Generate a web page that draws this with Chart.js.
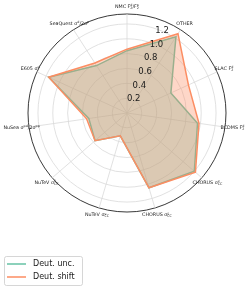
<!DOCTYPE html>
<html>
<head>
<meta charset="utf-8">
<script src="https://cdn.jsdelivr.net/npm/chart.js@4"></script>
<style>
  html, body { margin: 0; padding: 0; background: #fff; }
  canvas { display: block; }
</style>
</head>
<body>
<canvas id="radarChart" width="249" height="290"></canvas>
<script>
// categories, clockwise from the top
const categories = [
    'NMC F_{2}^{d}/F_{2}^{p}', 'OTHER', 'SLAC F_{2}^{d}', 'BCDMS F_{2}^{d}',
    'CHORUS σ_{CC}^{ν}', 'CHORUS σ_{CC}^{ν̄}', 'NuTeV σ_{CC}^{ν}', 'NuTeV σ_{CC}^{ν̄}',
    'NuSea σ^{pd}/2σ^{pp}', 'E605 σ^{d}', 'SeaQuest σ^{d}/2σ^{p}'
];

const uncValues   = [0.84, 1.22, 0.65, 0.96, 1.20, 1.05, 0.32, 0.57, 0.52, 1.16, 0.76];
const shiftValues = [0.86, 1.27, 0.91, 0.98, 1.22, 1.05, 0.32, 0.57, 0.55, 1.16, 0.80];

const gridTicks = [0.2, 0.4, 0.6, 0.8, 1.0, 1.2];
const tickLabels = ['0.2', '0.4', '0.6', '0.8', '1.0', '1.2'];
const rMax = 1.334;

const FONT = '"DejaVu Sans", sans-serif';
const TEXT = '#1a1a1a';

// split "F_{2}^{d}" style labels into plain text and sub/sup groups
function parseLabel(s) {
    const parts = [];
    let buf = '';
    let i = 0;
    while (i < s.length) {
        const ch = s[i];
        if ((ch === '_' || ch === '^') && s[i + 1] === '{') {
            const end = s.indexOf('}', i);
            const content = s.slice(i + 2, end);
            const key = ch === '_' ? 'sub' : 'sup';
            if (buf) { parts.push({ t: buf }); buf = ''; }
            const last = parts[parts.length - 1];
            if (last && last.script && !last[key]) last[key] = content;
            else parts.push({ script: true, [key]: content });
            i = end + 1;
        } else {
            buf += ch;
            i++;
        }
    }
    if (buf) parts.push({ t: buf });
    return parts;
}

function drawRichText(ctx, s, x, y, size) {
    const parts = parseLabel(s);
    const small = size * 0.7;
    const widths = parts.map(p => {
        if (!p.script) { ctx.font = size + 'px ' + FONT; return ctx.measureText(p.t).width; }
        ctx.font = small + 'px ' + FONT;
        return Math.max(p.sub ? ctx.measureText(p.sub).width : 0, p.sup ? ctx.measureText(p.sup).width : 0);
    });
    const total = widths.reduce((a, b) => a + b, 0);
    let cx = x - total / 2;
    ctx.textAlign = 'left';
    ctx.textBaseline = 'middle';
    parts.forEach((p, k) => {
        if (!p.script) {
            ctx.font = size + 'px ' + FONT;
            ctx.fillText(p.t, cx, y);
        } else {
            ctx.font = small + 'px ' + FONT;
            if (p.sup) ctx.fillText(p.sup, cx, y - size * 0.32);
            if (p.sub) ctx.fillText(p.sub, cx, y + size * 0.3);
        }
        cx += widths[k];
    });
}

const polarText = {
    id: 'polarText',
    afterDatasetsDraw(chart) {
        const scale = chart.scales.r;
        const ctx = chart.ctx;
        ctx.save();
        ctx.fillStyle = TEXT;
        ctx.font = '8.5px ' + FONT;
        ctx.textAlign = 'center';
        ctx.textBaseline = 'middle';
        const a = 22.5 * Math.PI / 180;
        gridTicks.forEach((v, k) => {
            const d = scale.getDistanceFromCenterForValue(v);
            ctx.fillText(tickLabels[k], scale.xCenter + d * Math.sin(a) + 1, scale.yCenter - d * Math.cos(a));
        });
        categories.forEach((c, i) => {
            const p = scale.getPointPosition(i, scale.drawingArea + 7.5);
            drawRichText(ctx, c, p.x, p.y, 4.8);
        });
        ctx.restore();
    },
    afterDraw(chart) {
        const ctx = chart.ctx;
        ctx.save();
        ctx.fillStyle = 'rgba(255,255,255,0.8)';
        ctx.strokeStyle = '#cccccc';
        ctx.lineWidth = 0.8;
        ctx.beginPath();
        ctx.roundRect(4.5, 256.5, 78, 29, 2);
        ctx.fill();
        ctx.stroke();
        ctx.font = '8px ' + FONT;
        ctx.textAlign = 'left';
        ctx.textBaseline = 'middle';
        chart.data.datasets.forEach((ds, k) => {
            const y = 264 + k * 13;
            ctx.strokeStyle = ds.borderColor;
            ctx.lineWidth = 1.5;
            ctx.beginPath();
            ctx.moveTo(7, y);
            ctx.lineTo(26, y);
            ctx.stroke();
            ctx.fillStyle = TEXT;
            ctx.fillText(ds.label, 33, y);
        });
        ctx.restore();
    }
};

new Chart(document.getElementById('radarChart'), {
    type: 'radar',
    data: {
        labels: categories,
        datasets: [
            {
                label: 'Deut. unc.',
                data: uncValues,
                borderColor: '#66c2a5',
                backgroundColor: 'rgba(102, 194, 165, 0.35)',
                borderWidth: 1.5,
                fill: true,
                order: 1
            },
            {
                label: 'Deut. shift',
                data: shiftValues,
                borderColor: '#fc8d62',
                backgroundColor: 'rgba(252, 141, 98, 0.35)',
                borderWidth: 1.5,
                fill: true,
                order: 0
            }
        ]
    },
    options: {
        responsive: false,
        animation: false,
        devicePixelRatio: 1,
        layout: { padding: { left: 28, right: 23, top: 14, bottom: 78 } },
        elements: {
            point: { radius: 0, hoverRadius: 0 },
            line: { tension: 0 }
        },
        plugins: {
            legend: { display: false },
            tooltip: { enabled: false }
        },
        scales: {
            r: {
                min: 0,
                max: rMax,
                startAngle: 0,
                afterBuildTicks: function(scale) {
                    scale.ticks = [0].concat(gridTicks, [rMax]).map(v => ({ value: v }));
                },
                ticks: { display: false },
                pointLabels: { display: false },
                grid: {
                    circular: true,
                    color: c => (c.tick && c.tick.value >= rMax - 1e-6) ? '#222222' : '#d9d9d9',
                    lineWidth: c => (c.tick && c.tick.value >= rMax - 1e-6) ? 0.9 : 0.8
                },
                angleLines: { color: '#d9d9d9', lineWidth: 0.8 }
            }
        }
    },
    plugins: [polarText]
});
</script>
</body>
</html>
